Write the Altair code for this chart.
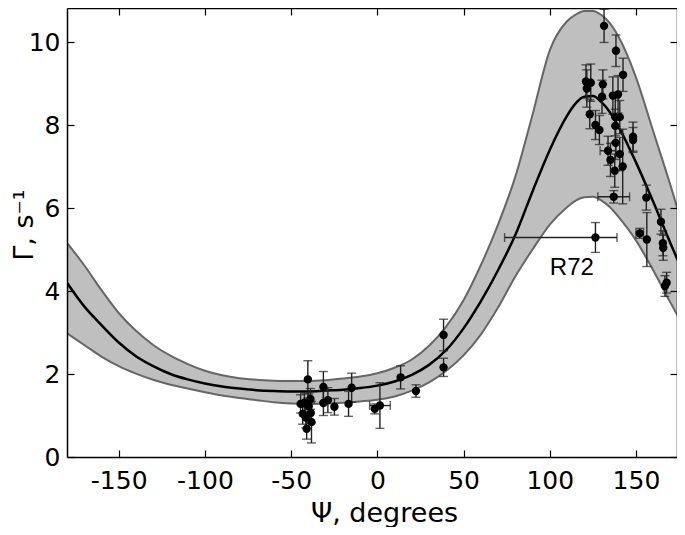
import altair as alt
import pandas as pd

# ---- fitted curve and confidence band ----
psi_grid = [-180, -170, -160, -150, -140, -130, -120, -110, -100, -90, -80, -70, -60, -50,
            -40, -30, -20, -10, 0, 10, 20, 30, 40, 50, 60, 70, 80, 90, 100, 110, 115, 120,
            125, 130, 135, 140, 150, 160, 170, 180]
fit_mean = [4.20, 3.63, 3.18, 2.76, 2.43, 2.19, 2.00, 1.87, 1.77, 1.70, 1.65, 1.61, 1.59, 1.58,
            1.58, 1.60, 1.62, 1.66, 1.72, 1.82, 1.98, 2.22, 2.58, 3.10, 3.75, 4.50, 5.35, 6.40,
            7.40, 8.22, 8.52, 8.68, 8.70, 8.55, 8.30, 7.95, 7.10, 6.15, 5.15, 4.20]
fit_upper = [5.16, 4.62, 4.02, 3.47, 3.04, 2.70, 2.44, 2.24, 2.08, 1.97, 1.90, 1.86, 1.84, 1.83,
             1.83, 1.85, 1.89, 1.94, 2.02, 2.15, 2.35, 2.68, 3.15, 3.78, 4.62, 5.60, 6.75, 8.25,
             9.80, 10.50, 10.66, 10.75, 10.75, 10.65, 10.45, 10.12, 9.15, 7.85, 6.55, 5.16]
fit_lower = [2.98, 2.70, 2.42, 2.19, 2.01, 1.86, 1.74, 1.65, 1.56, 1.48, 1.42, 1.37, 1.32, 1.29,
             1.28, 1.29, 1.31, 1.34, 1.38, 1.46, 1.60, 1.80, 2.08, 2.45, 2.95, 3.60, 4.35, 5.00,
             5.60, 6.02, 6.18, 6.26, 6.27, 6.18, 6.02, 5.78, 5.22, 4.50, 3.72, 2.98]

# ---- measured points with vertical error bars ----
pts_psi = [-44.5, -43.3, -42.3, -41.5, -41.0, -40.3, -39.8, -38.8, -38.6, -38.2, -31.3, -31.3,
           -28.7, -24.9, -16.7, -14.9, -1.5, 1.5, 13.5, 22.4, 38.4, 38.4,
           131.5, 138.4, 142.5, 121.0, 123.8, 130.8, 121.5, 130.3, 136.6, 139.6, 123.2, 138.0,
           140.6, 126.5, 128.8, 138.0, 148.3, 148.3, 138.2, 133.8, 140.6, 135.2, 142.3, 137.7,
           137.1, 156.0, 156.3, 152.2, 164.5, 165.6, 165.8, 166.8, 167.8, 126.5]
pts_gamma = [1.28, 1.04, 1.31, 0.95, 0.68, 1.87, 1.22, 1.40, 1.06, 0.84, 1.69, 1.30,
             1.37, 1.21, 1.28, 1.67, 1.16, 1.24, 1.92, 1.59, 2.94, 2.16,
             10.39, 9.79, 9.21, 9.05, 9.02, 8.98, 8.88, 8.68, 8.71, 8.74, 8.26, 8.19,
             8.19, 8.00, 7.88, 7.98, 7.72, 7.64, 7.57, 7.38, 7.30, 7.16, 7.00, 6.90,
             6.27, 6.25, 5.24, 5.39, 5.67, 5.15, 5.04, 4.12, 4.20, 5.29]
pts_err = [0.22, 0.25, 0.22, 0.25, 0.25, 0.45, 0.30, 0.25, 0.25, 0.50, 0.37, 0.30,
           0.30, 0.20, 0.30, 0.35, 0.12, 0.55, 0.28, 0.15, 0.38, 0.22,
           0.40, 0.38, 0.40, 0.40, 0.45, 0.35, 0.45, 0.40, 0.45, 0.45, 0.35, 0.45,
           0.40, 0.35, 0.35, 0.40, 0.35, 0.30, 0.40, 0.35, 0.40, 0.40, 0.90, 0.40,
           0.15, 0.30, 0.65, 0.12, 0.30, 0.30, 0.30, 0.25, 0.25, 0.36]

# ---- horizontal error bars ----
hbar_gamma = [1.24, 7.38, 6.27, 5.39, 5.29]
hbar_lo = [-4.5, 129.2, 127.9, 150.0, 73.8]
hbar_hi = [7.5, 138.4, 146.3, 154.4, 139.0]

label_text = ["R72"]
label_psi = [112.8]
label_gamma = [4.55]

x_ticks = [-150, -100, -50, 0, 50, 100, 150]
y_ticks = [0, 2, 4, 6, 8, 10]

W, H = 610, 449
FONT = "DejaVu Sans"

fit = pd.DataFrame({"psi": psi_grid, "mean": fit_mean, "upper": fit_upper, "lower": fit_lower})
pts = pd.DataFrame({"psi": pts_psi, "gamma": pts_gamma, "err": pts_err})
pts["lo"] = pts["gamma"] - pts["err"]
pts["hi"] = pts["gamma"] + pts["err"]
hb = pd.DataFrame({"gamma": hbar_gamma, "lo": hbar_lo, "hi": hbar_hi})
lab = pd.DataFrame({"t": label_text, "psi": label_psi, "gamma": label_gamma})

xs = alt.Scale(domain=[-180, 173.8], nice=False, zero=False)
ys = alt.Scale(domain=[0, 10.82], nice=False, zero=False)

common = dict(grid=False, zindex=2)
ax_x_main = alt.Axis(orient="bottom", values=x_ticks, ticks=False, tickSize=0, domain=True,
                     domainColor="black", domainWidth=1.5, labelFont=FONT, labelFontSize=25,
                     labelColor="black", labelPadding=11, labelFlush=False, labelOverlap=False,
                     labelExpr="'' + datum.value",
                     title="Ψ, degrees", titleFont=FONT, titleFontSize=27,
                     titleFontWeight="normal", titleColor="black",
                     titleX=317, titleY=64, titleAlign="center",
                     titleBaseline="alphabetic", **common)
ax_y_main = alt.Axis(orient="left", values=y_ticks, ticks=False, tickSize=0, domain=True,
                     domainColor="black", domainWidth=1.5, labelFont=FONT, labelFontSize=25,
                     labelColor="black", labelPadding=7, labelFlush=False, labelOverlap=False,
                     title="Γ, s⁻¹", titleFont=FONT, titleFontSize=27,
                     titleFontWeight="normal", titleColor="black",
                     titleX=-43, titleY=H / 2 - 8, titleAngle=270, titleAlign="center",
                     titleBaseline="middle", **common)
tick_style = dict(labels=False, ticks=True, tickSize=7, tickColor="black", tickWidth=1.2,
                  title="", **common)
ax_x_bot_ticks = alt.Axis(orient="top", offset=-H, values=x_ticks, domain=False, **tick_style)
ax_y_left_ticks = alt.Axis(orient="right", offset=-W, values=y_ticks, domain=False, **tick_style)
ax_x_top = alt.Axis(orient="bottom", offset=-H, values=x_ticks, domain=True,
                    domainColor="black", domainWidth=1.5, **tick_style)
ax_y_right = alt.Axis(orient="left", offset=-W, values=y_ticks, domain=True,
                      domainColor="black", domainWidth=1.5, **tick_style)

band = alt.Chart(fit).mark_area(color="#bfbfbf", interpolate="monotone", clip=True).encode(
    x=alt.X("psi:Q", scale=xs, axis=ax_x_main),
    y=alt.Y("lower:Q", scale=ys, axis=ax_y_main),
    y2="upper:Q",
)
upper = alt.Chart(fit).mark_line(color="#666666", strokeWidth=2, interpolate="monotone",
                                 clip=True).encode(
    x=alt.X("psi:Q", scale=xs, axis=ax_x_bot_ticks),
    y=alt.Y("upper:Q", scale=ys, axis=ax_y_left_ticks),
)
lower = alt.Chart(fit).mark_line(color="#666666", strokeWidth=2, interpolate="monotone",
                                 clip=True).encode(
    x=alt.X("psi:Q", scale=xs, axis=ax_x_top),
    y=alt.Y("lower:Q", scale=ys, axis=ax_y_right),
)
mean = alt.Chart(fit).mark_line(color="black", strokeWidth=2.5, interpolate="monotone",
                                clip=True).encode(
    x=alt.X("psi:Q", scale=xs, axis=None),
    y=alt.Y("mean:Q", scale=ys, axis=None),
)

ebar_col = "#222222"
vrule = alt.Chart(pts).mark_rule(color=ebar_col, strokeWidth=1.4).encode(
    x=alt.X("psi:Q", scale=xs, axis=None),
    y=alt.Y("lo:Q", scale=ys, axis=None),
    y2="hi:Q",
)
vcap_lo = alt.Chart(pts).mark_tick(color=ebar_col, orient="horizontal", size=9,
                                   thickness=1.4).encode(
    x=alt.X("psi:Q", scale=xs, axis=None),
    y=alt.Y("lo:Q", scale=ys, axis=None),
)
vcap_hi = alt.Chart(pts).mark_tick(color=ebar_col, orient="horizontal", size=9,
                                   thickness=1.4).encode(
    x=alt.X("psi:Q", scale=xs, axis=None),
    y=alt.Y("hi:Q", scale=ys, axis=None),
)
hrule = alt.Chart(hb).mark_rule(color=ebar_col, strokeWidth=1.4).encode(
    x=alt.X("lo:Q", scale=xs, axis=None),
    x2="hi:Q",
    y=alt.Y("gamma:Q", scale=ys, axis=None),
)
hcap_lo = alt.Chart(hb).mark_tick(color=ebar_col, orient="vertical", size=9,
                                  thickness=1.4).encode(
    x=alt.X("lo:Q", scale=xs, axis=None),
    y=alt.Y("gamma:Q", scale=ys, axis=None),
)
hcap_hi = alt.Chart(hb).mark_tick(color=ebar_col, orient="vertical", size=9,
                                  thickness=1.4).encode(
    x=alt.X("hi:Q", scale=xs, axis=None),
    y=alt.Y("gamma:Q", scale=ys, axis=None),
)
points = alt.Chart(pts).mark_circle(color="black", size=70, opacity=1).encode(
    x=alt.X("psi:Q", scale=xs, axis=None),
    y=alt.Y("gamma:Q", scale=ys, axis=None),
)
text = alt.Chart(lab).mark_text(font="Liberation Sans", fontSize=24, color="black",
                                align="center", baseline="middle").encode(
    x=alt.X("psi:Q", scale=xs, axis=None),
    y=alt.Y("gamma:Q", scale=ys, axis=None),
    text="t:N",
)

chart = alt.layer(
    band, upper, lower, mean, vrule, vcap_lo, vcap_hi, hrule, hcap_lo, hcap_hi, points, text
).resolve_axis(x="independent", y="independent").properties(
    width=W, height=H,
    autosize=alt.AutoSizeParams(type="none"),
    padding={"left": 59, "top": 0, "right": 0, "bottom": 70},
    background="white",
).configure_view(stroke=None)

chart.save("out.html", embed_options={"renderer": "svg", "actions": False})
